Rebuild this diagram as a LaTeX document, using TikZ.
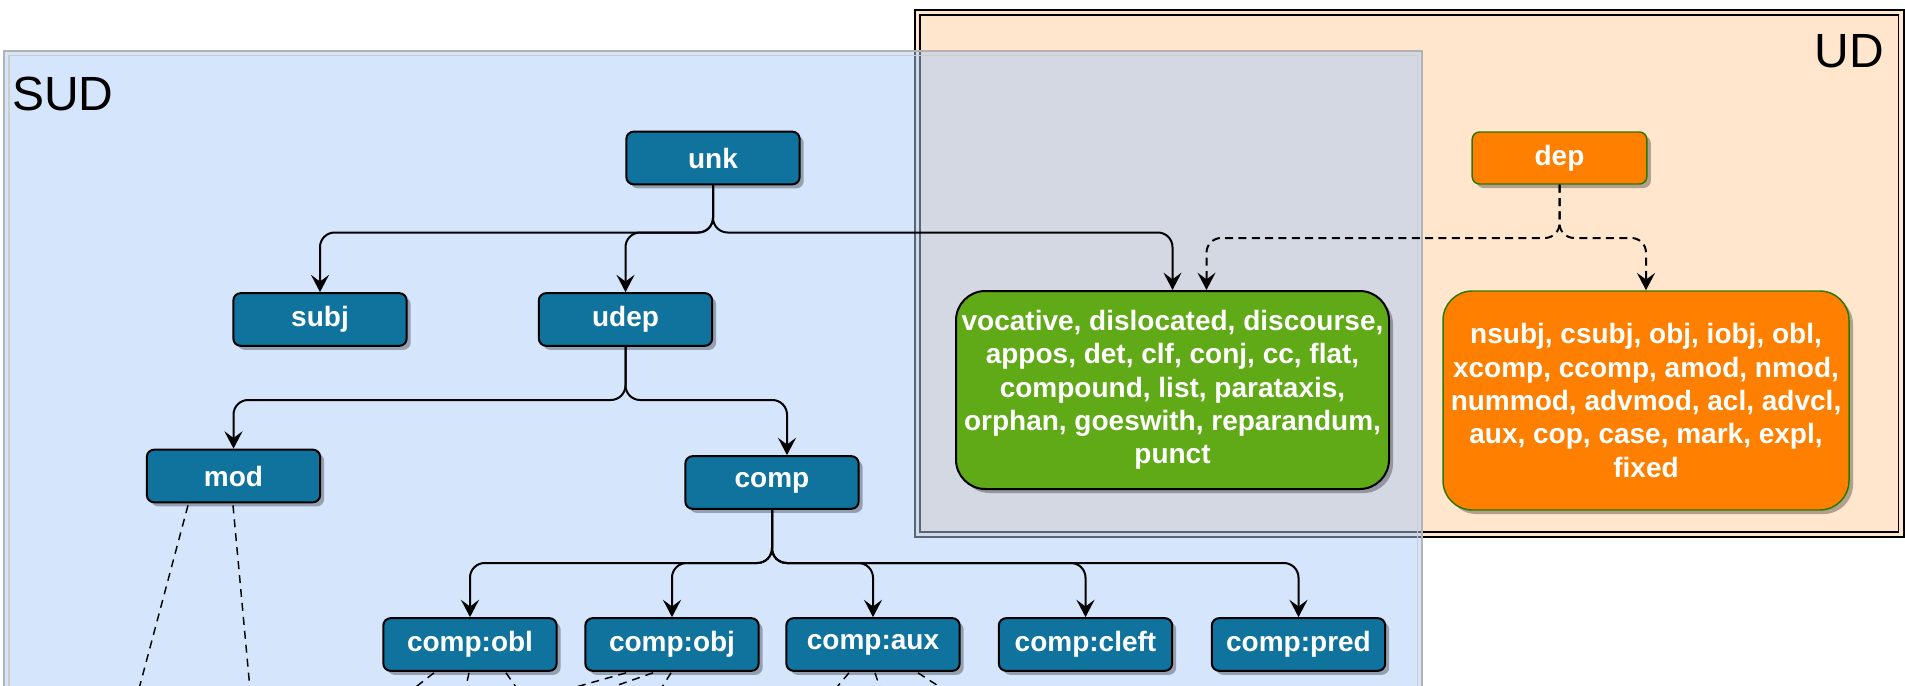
\documentclass[tikz,border=0pt]{standalone}
\usepackage{fontspec}
\setmainfont{Liberation Sans}
\usetikzlibrary{arrows.meta,shadows,calc}
\definecolor{sudfill}{HTML}{A9CBF9}
\definecolor{udfill}{HTML}{FFE6CC}
\definecolor{relblue}{HTML}{10739E}
\definecolor{relgreen}{HTML}{60A917}
\definecolor{relorange}{HTML}{FF8000}
\definecolor{edgegreen}{HTML}{2D7600}

\begin{document}
\begin{tikzpicture}[x=0.75pt,y=-0.75pt,
  boxshadow/.style={drop shadow={shadow xshift=3pt,shadow yshift=-3pt,opacity=0.3,fill=black}},
  labelfont/.style={font=\fontsize{21}{25}\selectfont\bfseries, text=white, align=center, inner sep=0pt},
  rel/.style={rectangle, rounded corners=5.5pt, draw=black, line width=1.5pt, fill=relblue,
    minimum width=130pt, minimum height=39.5pt, labelfont, boxshadow},
  udrel/.style={rectangle, rounded corners=5.5pt, draw=edgegreen, line width=1.1pt, fill=relorange,
    minimum width=131pt, minimum height=39pt, labelfont, boxshadow},
  biggreen/.style={rectangle, rounded corners=22pt, draw=black, line width=1.5pt, fill=relgreen,
    minimum width=324.75pt, minimum height=148.5pt, labelfont, boxshadow},
  bigorange/.style={rectangle, rounded corners=22pt, draw=edgegreen, line width=1.1pt, fill=relorange,
    minimum width=304.5pt, minimum height=164.25pt, labelfont, boxshadow},
  conn/.style={line width=1.5pt, rounded corners=11pt, -{Stealth[length=13pt,width=13.5pt,inset=5pt]}},
  dconn/.style={conn, dash pattern=on 6pt off 4pt},
  tail/.style={line width=1.1pt, dash pattern=on 6pt off 4.5pt},
  region/.style={font=\fontsize{36}{40}\selectfont, inner sep=0pt}
]
\useasboundingbox (0,0) rectangle (1905,685);
\clip (0,0) rectangle (1905,685);

% UD region
\fill[udfill] (915,10) rectangle (1903.5,537);
\draw[black, line width=1.5pt] (915,10) rectangle (1903.5,537);
\draw[black, line width=0.9pt] (920,15) rectangle (1898.5,532);

% SUD region, translucent over the UD region
\fill[sudfill, fill opacity=0.5] (4,51) rectangle (1422,720);
\draw[black!30, line width=1.2pt] (4,51) rectangle (1422,720);
\draw[black!20, line width=0.9pt] (9,55.5) rectangle (1417.5,720);

\node[region, anchor=base west] (sudlab) at (12,110) {SUD};
\node[region, anchor=base east] (udlab) at (1884,68) {UD};

% free ends of the links that leave the picture
\coordinate (t1) at (136,700);
\coordinate (t2) at (251,700);
\coordinate (t3) at (399,700);
\coordinate (t4) at (463,700);
\coordinate (t5) at (525,700);
\coordinate (t6) at (530,700);
\coordinate (t7) at (575,700);
\coordinate (t8) at (654,700);
\coordinate (t9) at (826,700);
\coordinate (t10) at (884,700);
\coordinate (t11) at (960,700);

% SUD relations
\node[rel] (unk) at (713,158) {unk};
\node[rel] (subj) at (320,319.5) {subj};
\node[rel] (udep) at (625.5,319.5) {udep};
\node[rel] (mod) at (233.5,476) {mod};
\node[rel] (comp) at (772,482.5) {comp};
\node[rel] (cobl) at (470,644.5) {comp:obl};
\node[rel] (cobj) at (672,644.5) {comp:obj};
\node[rel] (caux) at (873,644.5) {comp:aux};
\node[rel] (ccleft) at (1085.5,644.5) {comp:cleft};
\node[rel] (cpred) at (1298.5,644.5) {comp:pred};

% UD relations
\node[udrel] (dep) at (1559.5,158) {dep};
\node[biggreen] (shared) at (1172.5,390) {vocative, dislocated, discourse,\\appos, det, clf, conj, cc, flat,\\compound, list, parataxis,\\orphan, goeswith, reparandum,\\punct};
\node[bigorange] (udonly) at (1646,400.5) {nsubj, csubj, obj, iobj, obl,\\xcomp, ccomp, amod, nmod,\\nummod, advmod, acl, advcl,\\aux, cop, case, mark, expl,\\fixed};

% hierarchy links
\draw[conn] (unk.south) -- (unk.south |- 0,232.5) -| (subj.north);
\draw[conn] (unk.south) -- (unk.south |- 0,232.5) -| (udep.north);
\draw[conn] (unk.south) -- (unk.south |- 0,232.5) -| (shared.north);
\draw[conn] (udep.south) -- (udep.south |- 0,400) -| (mod.north);
\draw[conn] (udep.south) -- (udep.south |- 0,400) -| ($(comp.north)+(15,0)$);
\foreach \c in {cobl,cobj,caux,ccleft,cpred}
  \draw[conn] (comp.south) -- (comp.south |- 0,563) -| (\c.north);
\draw[dconn] (dep.south) -- (dep.south |- 0,238) -| ($(shared.north)+(34,0)$);
\draw[dconn] (dep.south) -- (dep.south |- 0,238) -| (udonly.north);

% links leaving the bottom edge
\draw[tail] ($(mod.south)+(-45.5,2)$) -- (t1);
\draw[tail] ($(mod.south)+(-0.5,2)$) -- (t2);
\draw[tail] ($(cobl.south)+(-36,1)$) -- (t3);
\draw[tail] ($(cobl.south)+(-1,1)$) -- (t4);
\draw[tail] ($(cobl.south)+(36,1)$) -- (t5);
\draw[tail] ($(cobj.south)+(-46,1)$) -- (t6);
\draw[tail] ($(cobj.south)+(-19,1)$) -- (t7);
\draw[tail] ($(cobj.south)+(-1,1)$) -- (t8);
\draw[tail] ($(caux.south)+(-24,1)$) -- (t9);
\draw[tail] ($(caux.south)+(2,1)$) -- (t10);
\draw[tail] ($(caux.south)+(45,1)$) -- (t11);
\end{tikzpicture}
\end{document}
